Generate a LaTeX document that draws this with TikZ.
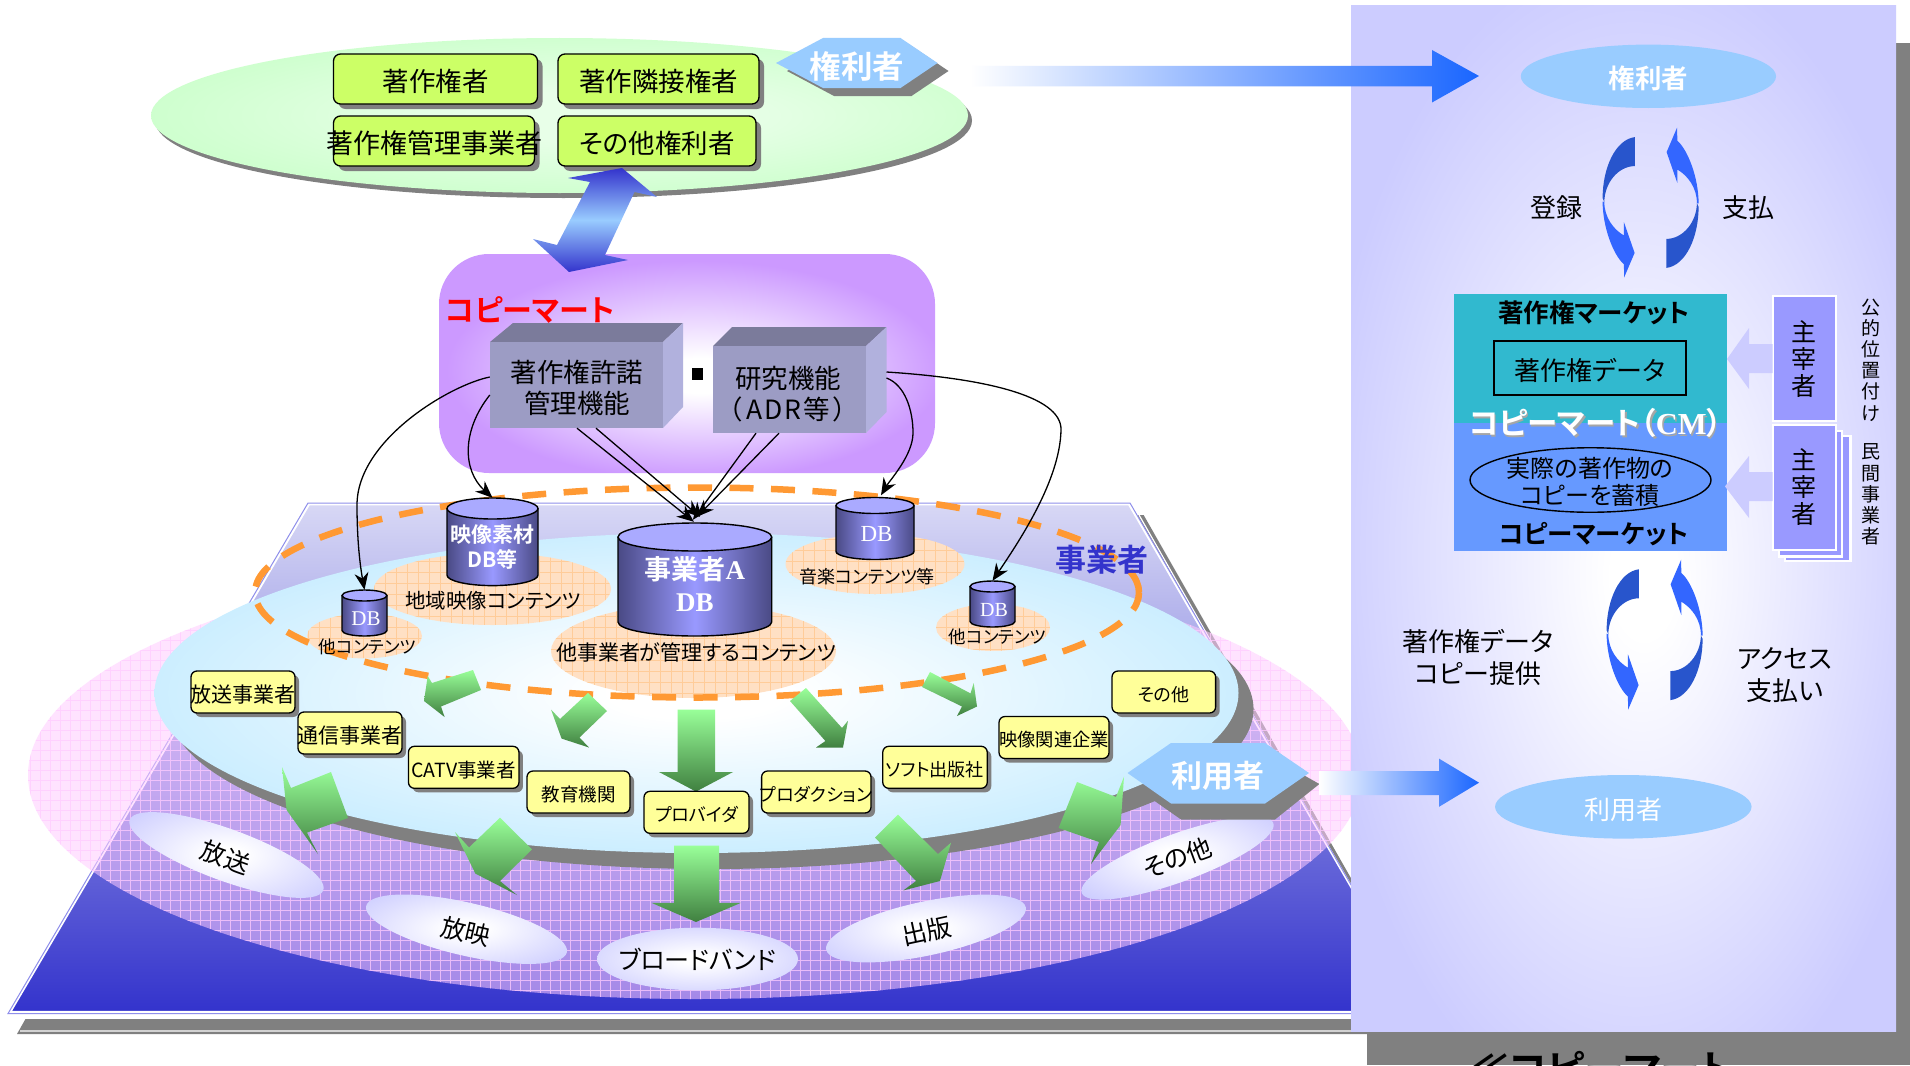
\documentclass[tikz,border=0pt]{standalone}
\usepackage{fontspec}
\setmainfont[RawFeature=+palt,BoldFont={Noto Sans CJK JP Bold}]{Noto Sans CJK JP}
\newfontfamily\latserif[BoldFont={Liberation Serif Bold}]{Liberation Serif}
\usetikzlibrary{arrows.meta,shapes.geometric,shadows}
\definecolor{cLime}{HTML}{CCFF66}
\definecolor{cYel}{HTML}{FFFF99}
\definecolor{cSky}{HTML}{99CCFF}
\definecolor{cGreenOut}{HTML}{CCFFCC}
\definecolor{cGreenIn}{HTML}{E8FFE8}
\definecolor{cMint}{HTML}{CCEEFF}
\definecolor{cViolet}{HTML}{CC99FF}
\definecolor{cPanel}{HTML}{CCCCFF}
\definecolor{cShadow}{HTML}{808080}
\definecolor{cPeach}{HTML}{FFE0C4}
\definecolor{cPeachGrid}{HTML}{FFCC99}
\definecolor{cOrange}{HTML}{FF9933}
\definecolor{cFront}{HTML}{9C9CC4}
\definecolor{cTop}{HTML}{7B7B9B}
\definecolor{cSide}{HTML}{B1B1DD}
\definecolor{cDBedge}{HTML}{4A4A85}
\definecolor{cDBmid}{HTML}{9999FF}
\definecolor{cDBtop}{HTML}{AAAAFF}
\definecolor{cTeal}{HTML}{31B9CF}
\definecolor{cCorn}{HTML}{6699FF}
\definecolor{cDark}{HTML}{2855CC}
\definecolor{cBright}{HTML}{3366FF}
\definecolor{cArrow}{HTML}{1A66FF}
\definecolor{cNavy}{HTML}{3333CC}
\definecolor{cPlaneTop}{HTML}{D8D8F5}
\definecolor{cGTop}{HTML}{99FF99}
\definecolor{cGBot}{HTML}{408040}
\definecolor{cPinkF}{HTML}{FFCCFF}
\pgfdeclareradialshading{shGreen}{\pgfpoint{3bp}{0bp}}{color(0bp)=(cGreenIn); color(8bp)=(cGreenIn); color(28bp)=(cGreenOut); color(50bp)=(cGreenOut)}
\pgfdeclareradialshading{shDisc}{\pgfpoint{0bp}{0bp}}{color(0bp)=(white); color(4bp)=(white); color(25bp)=(cMint); color(50bp)=(cMint)}
\pgfdeclareradialshading{shMart}{\pgfpoint{1.5bp}{-3bp}}{color(0bp)=(white); color(4bp)=(white); color(25bp)=(cViolet); color(50bp)=(cViolet)}
\pgfdeclareradialshading{shPanel}{\pgfpoint{2bp}{-3bp}}{color(0bp)=(white); color(3bp)=(white); color(29bp)=(cPanel); color(50bp)=(cPanel)}
\pgfdeclareradialshading{shOval}{\pgfpoint{0bp}{0bp}}{color(0bp)=(white); color(4bp)=(white); color(33bp)=(cPanel); color(50bp)=(cPanel)}
\newcommand{\fs}[2]{\fontsize{#1}{#2}\selectfont}
% text centred on the node, glyph centre moved down by #1, size of node untouched
\newcommand{\mbr}[2]{\makebox[0pt][c]{\raisebox{\dimexpr-.38em-#1\relax}[0pt][0pt]{#2}}}
\newcommand{\mb}[1]{\mbr{2.5pt}{#1}}
\newcommand{\peach}[4]{%
  \fill[cPeach] (#1,#2) ellipse [x radius=#3pt,y radius=#4pt];
  \begin{scope}\clip (#1,#2) ellipse [x radius=#3pt,y radius=#4pt];
  \draw[cPeachGrid,line width=.6pt,step=11pt] (#1-#3,#2-#4) grid (#1+#3,#2+#4);\end{scope}}
% x1 x2 ytop ybottom ry
\newcommand{\cyl}[5]{%
  \shade[left color=cDBedge,right color=cDBedge,middle color=cDBmid]
    (#1,#3+#5) -- (#1,#4-#5) arc[start angle=180,end angle=360,x radius={(#2-#1)/2*1pt},y radius=#5pt] -- (#2,#3+#5) -- cycle;
  \draw[black,line width=1.4pt] (#1,#3+#5) -- (#1,#4-#5) arc[start angle=180,end angle=360,x radius={(#2-#1)/2*1pt},y radius=#5pt] -- (#2,#3+#5);
  \filldraw[fill=cDBtop,draw=black,line width=1.4pt] ({(#1+#2)/2},#3+#5) ellipse [x radius={(#2-#1)/2*1pt},y radius=#5pt];}
\newcommand{\cyc}[2]{%
  \begin{scope}[shift={(#1,#2)}]
  \foreach \a in {0,180}{\begin{scope}[rotate=\a]
  \fill[cDark] (-15.8,-65.4) .. controls (-35,-63) and (-48,-35) .. (-48,-4.3) -- (-46.3,-0.7) .. controls (-46,-20) and (-32,-36.4) .. (-15.8,-36.4) -- cycle;
  \fill[cBright] (-48,-1) .. controls (-48,25) and (-37,53) .. (-26.7,61.8) -- (-26.5,75) -- (-16,50.4) -- (-26.7,19.6) -- (-26.7,33) .. controls (-37,27) and (-46.3,15) .. (-46.3,-0.7) -- cycle;
  \end{scope}}
  \end{scope}}
\tikzset{
  limebox/.style={draw=black,line width=1.3pt,rounded corners=7pt,fill=cLime,inner sep=0pt,minimum height=50pt,font=\fs{26.5}{30},
    drop shadow={shadow xshift=5pt,shadow yshift=-5pt,opacity=1,fill=cShadow}},
  yelbox/.style={draw=black,line width=1.3pt,rounded corners=6pt,fill=cYel,inner sep=0pt,minimum height=42pt,font=\fs{18}{21},
    drop shadow={shadow xshift=4pt,shadow yshift=-4pt,opacity=1,fill=cShadow}},
  cubefront/.style={fill=cFront,inner sep=0pt},
  lbl/.style={inner sep=0pt,align=center},
  dbbox/.style={inner sep=0pt,align=center,text=white,draw=none},
  oval/.style={ellipse,shade,shading=shOval,inner sep=0pt,font=\fs{25}{28}},
  green/.style={top color=cGTop,bottom color=cGBot,draw=none},
  conn/.style={black,line width=1.3pt,-{Stealth[length=17pt,width=14pt]}},
  chief/.style={fill=cDBmid,draw=white,line width=2.5pt,inner sep=0pt,minimum width=63pt,minimum height=125pt,align=center,font=\fs{25}{27}},
  pale/.style={fill=cPanel,draw=none}
}
\begin{document}
\begin{tikzpicture}[x=1pt,y=-1pt]
\useasboundingbox (0,0) rectangle (1910,1065);
\clip (0,0) rectangle (1910,1065);
\fill[white] (0,0) rectangle (1910,1065);
% ---- platform
\fill[cShadow] (17,1034) -- (310,515) -- (1143.6,515) -- (1440,1034) -- cycle;
\draw[white,line width=1.2pt] (1139,515) -- (1433,1031) -- (20,1031);
\fill[white] (5,1012) rectangle (1352,1019);
\shade[top color=cPlaneTop,bottom color=cNavy] (8,1013.6) -- (308,503) -- (1130,503) -- (1425.6,1013.6) -- cycle;
\draw[white,line width=2.5pt] (10,1012) -- (309,504) -- (1129,504) -- (1424,1012) -- cycle;
\draw[cPanel!60!cNavy,line width=1pt] (8,1013.6) -- (308,503) -- (1130,503) -- (1425.6,1013.6) -- cycle;
% ---- pink disc
\fill[cPinkF,opacity=.55] (695,775) ellipse [x radius=667pt,y radius=224pt];
\begin{scope}\clip (695,775) ellipse [x radius=667pt,y radius=224pt];
\draw[cPinkF,opacity=.75,line width=.7pt,step=10pt] (20,540) grid (1370,1010);
\end{scope}
% ---- light blue disc
\fill[cShadow] (711.5,709) ellipse [x radius=542pt,y radius=160pt];
\shade[shading=shDisc] (696.5,693) ellipse [x radius=542pt,y radius=160pt];
% ---- peach contents
\peach{492.5}{589}{118.5}{36}
\peach{364.5}{636}{57.5}{22.4}
\peach{693.5}{651}{142.5}{47}
\peach{875}{564}{89.5}{30}
\peach{993}{627.5}{57}{23.5}
\draw[cOrange,line width=6.5pt,dash pattern=on 24pt off 17.5pt] (697,592.5) ellipse [x radius=442pt,y radius=105pt];
% ---- top rights-holder ellipse
\fill[cShadow] (563.5,120.5) ellipse [x radius=408.5pt,y radius=77.5pt];
\shade[shading=shGreen] (559.5,115.5) ellipse [x radius=408.5pt,y radius=77.5pt];
\node[limebox,minimum width=204pt] (lime1) at (435.5,79) {\mb{著作権者}};
\node[limebox,minimum width=201pt] (lime2) at (658.5,79) {\mb{著作隣接権者}};
\node[limebox,minimum width=201pt] (lime3) at (434,141) {\mb{\fs{27}{30}著作権管理事業者}};
\node[limebox,minimum width=198pt] (lime4) at (657,141) {\mb{その他権利者}};
\fill[cShadow] (787,71) -- (834,46) -- (911.5,46) -- (948.5,71) -- (911.5,96) -- (834,96) -- cycle;
\fill[cSky] (776,63) -- (823,38) -- (900.5,38) -- (937.5,63) -- (900.5,88) -- (823,88) -- cycle;
\node[lbl,text=white,font=\bfseries\fs{31.5}{34}] (hexR) at (857,66) {権利者};
% ---- mart box
\shade[shading=shMart,rounded corners=50pt] (439,254) rectangle (935,473);
\shade[top color=cNavy,bottom color=cNavy,middle color=cSky] (622,168) -- (568,178) -- (590,182) -- (557,245) -- (533,239) -- (569,272) -- (628,260) -- (605,255) -- (634.5,192) -- (657,197) -- cycle;
\node[lbl,text=red,font=\bfseries\fs{30}{34}] (martT) at (530,310) {コピーマート};
\fill[cTop] (490,342) -- (513,323) -- (683,323) -- (663,342) -- cycle;
\fill[cSide] (663,342) -- (683,323) -- (683,407) -- (663,428) -- cycle;
\node[cubefront,minimum width=173pt,minimum height=86pt] (cube1) at (576.5,385) {};
\node[lbl,font=\fs{26.5}{31.5}] (tCube1) at (577,388) {著作権許諾\\管理機能};
\fill[cTop] (713,346) -- (732,327) -- (886.5,327) -- (866,346) -- cycle;
\fill[cSide] (866,346) -- (886.5,327) -- (886.5,412) -- (866,433) -- cycle;
\node[cubefront,minimum width=153pt,minimum height=87pt] (cube2) at (789.5,389.5) {};
\node[lbl,font=\fs{26.5}{31.5}] (tCube2) at (788,394) {研究機能\\（\kern4pt A\kern2pt D\kern2pt R\kern2pt 等\kern4pt）};
\fill[black] (692,368) rectangle (703,380);
% ---- green arrows (small)
\shade[green] (473,670) -- (481,690) -- (441,706.5) -- (444.6,717) -- (424,701) -- (427.7,676) -- (432,683) -- cycle;
\shade[green] (588,693) -- (607,711) -- (579.5,737.5) -- (589,747.5) -- (561.6,738.6) -- (551,709.5) -- (560,719) -- cycle;
\shade[green] (677.5,709.5) -- (715,709.5) -- (715,772) -- (733,772) -- (696,791.6) -- (659,772) -- (677.5,772) -- cycle;
\shade[green] (790,701) -- (806,688) -- (842,728) -- (848,720.7) -- (843,747.5) -- (816,747.5) -- (825.4,741) -- cycle;
\shade[green] (930,672) -- (922,687) -- (962,706.5) -- (957,716) -- (977,706.5) -- (973.7,683) -- (970.5,693.4) -- cycle;
% ---- databases
\cyl{447}{538}{498}{585.6}{10.5}
\node[dbbox,minimum width=91pt,minimum height=87.6pt,font=\bfseries\fs{21}{25}] (dbV) at (492.5,541.8) {\\[4pt]映像素材\\DB等};
\cyl{618}{771.7}{523}{636}{14}
\node[dbbox,minimum width=153.7pt,minimum height=113pt,font=\bfseries\fs{27}{32.5}] (dbA) at (694.9,579.5) {\\[0pt]事業者{\latserif A}\\{\latserif DB}};
\cyl{342}{387}{590}{636}{5.5}
\node[dbbox,minimum width=45pt,minimum height=46pt,font=\latserif\fs{21}{24}] (dbS) at (364.5,613) {\\[2pt]\hspace{3pt}DB};
\cyl{836}{914}{497.5}{559.5}{8}
\node[dbbox,minimum width=78pt,minimum height=62pt,font=\latserif\fs{23}{26}] (dbM) at (875,528.5) {\\[0pt]\hspace{3pt}DB};
\cyl{970}{1015}{581}{627}{5.5}
\node[dbbox,minimum width=45pt,minimum height=46pt,font=\latserif\fs{20}{23}] (dbR) at (992.5,604) {\\[2pt]\hspace{3pt}DB};
% ---- content labels
\node[lbl,font=\fs{20.5}{23}] (tV) at (493,601) {地域映像コンテンツ};
\node[lbl,font=\fs{17.5}{20}] (tS) at (367.5,647) {他コンテンツ};
\node[lbl,font=\fs{21}{24}] (tA) at (696,652) {他事業者が管理するコンテンツ};
\node[lbl,font=\fs{18}{21}] (tM) at (867,577) {音楽コンテンツ等};
\node[lbl,font=\fs{17.5}{20}] (tR) at (997.5,637) {他コンテンツ};
\node[lbl,text=cNavy,font=\bfseries\fs{31}{34}] (tOp) at (1102,560) {事業者};
% ---- yellow boxes
\node[yelbox,minimum width=104pt,font=\fs{21}{24}] (y1) at (243,692) {\mb{放送事業者}};
\node[yelbox,minimum width=104pt,font=\fs{21}{24}] (y2) at (350,733) {\mb{通信事業者}};
\node[yelbox,minimum width=110.5pt,font=\fs{19.5}{22}] (y3) at (463.7,767.3) {\mb{CATV事業者}};
\node[yelbox,minimum width=103pt,font=\fs{18.5}{22}] (y4) at (578.5,792) {\mb{教育機関}};
\node[yelbox,minimum width=105pt] (y5) at (696.5,812.3) {\mb{プロバイダ}};
\node[yelbox,minimum width=109.4pt] (y6) at (816.3,792) {\mb{プロダクション}};
\node[yelbox,minimum width=104.5pt] (y7) at (935,767.3) {\mb{ソフト出版社}};
\node[yelbox,minimum width=110pt,font=\fs{18.3}{21}] (y8) at (1054,737.5) {\mb{映像関連企業}};
\node[yelbox,minimum width=103.6pt] (y9) at (1163.8,692) {\mb{その他}};
% ---- ovals
\node[oval,minimum width=206pt,minimum height=52pt,rotate=-20] (o1) at (226.5,855) {\mb{放送}};
\node[oval,minimum width=206pt,minimum height=53pt,rotate=-13] (o2) at (466.5,929.2) {\mb{放映}};
\node[oval,minimum width=201pt,minimum height=62.6pt] (o3) at (697.5,959) {\mbr{1pt}{ブロードバンド}};
\node[oval,minimum width=204pt,minimum height=54pt,rotate=12] (o4) at (926,928.5) {\mb{出版}};
\node[oval,minimum width=204pt,minimum height=48pt,rotate=20] (o5) at (1177.5,858) {\mbr{0pt}{その他}};
% ---- green arrows (large)
\shade[green] (282,767) -- (291,788) -- (331,772) -- (348,818) -- (307,832.6) -- (318,854) -- (286.6,810) -- cycle;
\shade[green] (500,817.7) -- (532,849.4) -- (500,881) -- (517,895) -- (475.4,873.6) -- (455,832) -- (469,847.5) -- cycle;
\shade[green] (674,845.7) -- (719,845.7) -- (719,902.8) -- (741,902.8) -- (696,922) -- (651.4,902.8) -- (674,902.8) -- cycle;
\shade[green] (875,837.5) -- (898,814.7) -- (938,854) -- (951,842.7) -- (940,881) -- (903.4,890.4) -- (916,881) -- cycle;
\shade[green] (1077,782) -- (1116,797) -- (1124,776.6) -- (1120.6,825) -- (1091,864) -- (1099,842) -- (1058.6,828) -- cycle;
% ---- connectors
\draw[conn] ([yshift=8pt]cube1.west) .. controls (450,385) and (357,440) .. (357,505) .. controls (357,540) and (360,565) .. (dbS.north);
\draw[conn] ([yshift=-10pt]cube1.west) .. controls (462,430) and (462,470) .. (dbV.north);
\draw[conn] ([xshift=0.5pt]cube1.south) -- ([xshift=-1pt,yshift=1pt]dbA.north);
\draw[conn] ([xshift=19.5pt]cube1.south) -- ([xshift=5pt,yshift=6pt]dbA.north);
\draw[conn] ([xshift=-33.5pt]cube2.south) -- ([xshift=-2pt,yshift=3pt]dbA.north);
\draw[conn] ([xshift=-10.5pt]cube2.south) -- ([xshift=2pt,yshift=6pt]dbA.north);
\coordinate (c2a) at (886.5,372);
\coordinate (c2b) at (886.5,378);
\draw[conn] (c2b) .. controls (905,385) and (913,410) .. (913,433) .. controls (913,455) and (890,480) .. ([xshift=6pt,yshift=2pt]dbM.north);
\draw[conn] (c2a) .. controls (980,378) and (1062,395) .. (1061,430) .. controls (1060,480) and (1020,540) .. (dbR.north);
% ---- users hexagon
\fill[cShadow] (1137.5,789) -- (1181,759) -- (1275,759) -- (1319.4,784) -- (1275,819.5) -- (1181,819.5) -- cycle;
\fill[cSky] (1127.5,773) -- (1171,743) -- (1265,743) -- (1309,773) -- (1265,803.5) -- (1171,803.5) -- cycle;
\node[lbl,text=white,font=\bfseries\fs{31}{34}] (hexU) at (1218.4,776) {利用者};
% ---- right panel
\fill[cShadow] (1896,43) rectangle (1910,1065);
\fill[cShadow] (1367,1031) rectangle (1910,1065);
\node[lbl,anchor=base west,font=\bfseries\fs{40}{44}] (tBot) at (1468,1084) {≪コピーマート};
\shade[shading=shPanel] (1351,6) rectangle (1896,1031);
% flow arrows
\shade[left color=white,middle color=white!65!cArrow,right color=cArrow] (970,66) -- (1432,66) -- (1432,50) -- (1479,76) -- (1432,102.5) -- (1432,86.4) -- (970,86.4) -- cycle;
\shade[left color=white,middle color=white!88!cArrow,right color=cArrow] (1319.4,771) -- (1439,771) -- (1439,758.6) -- (1479,782.7) -- (1439,806.8) -- (1439,795) -- (1319.4,795) -- cycle;
\node[ellipse,fill=cSky,inner sep=0pt,minimum width=255.3pt,minimum height=63.4pt,text=white,font=\bfseries\fs{26.5}{30}] (eR) at (1648.4,76.3) {\mb{権利者}};
\node[ellipse,fill=cSky,inner sep=0pt,minimum width=256.5pt,minimum height=63.6pt,text=white,font=\fs{26}{30}] (eU) at (1623.3,806.8) {\mb{利用者}};
\cyc{1650.6}{202.5}
\cyc{1654.6}{634.7}
\node[lbl,font=\fs{26}{28}] (tReg) at (1556.5,208) {登録};
\node[lbl,font=\fs{26}{28}] (tPay) at (1748,208) {支払};
\node[lbl,font=\fs{26}{31.5}] (tData) at (1478,657.5) {著作権データ\\コピー提供};
\node[lbl,font=\fs{26}{31.5}] (tAcc) at (1785,675) {アクセス\\支払い};
% market block
\fill[cTeal] (1454,294) rectangle (1727,422.5);
\fill[cCorn] (1454,422.5) rectangle (1727,551);
\node[lbl,font=\bfseries\fs{25.5}{28}] (tCM1) at (1594,312.5) {著作権マーケット};
\node[draw=black,line width=1.5pt,inner sep=0pt,minimum width=192pt,minimum height=53.6pt,font=\fs{26}{28}] (bData) at (1590,368) {\mb{著作権データ}};
\node[lbl,text=cShadow!70,font=\bfseries\fs{30.5}{32}] (tCMs) at (1597,425) {コピーマート（{\latserif CM}）};
\node[lbl,text=white,font=\bfseries\fs{30.5}{32}] (tCM) at (1595.5,423) {コピーマート（{\latserif CM}）};
\node[ellipse,draw=black,line width=1.4pt,inner sep=0pt,minimum width=241pt,minimum height=64.5pt] (eCopy) at (1590.5,480) {};
\node[lbl,font=\fs{24}{27.5}] (tCopy) at (1590,482) {実際の著作物の\\コピーを蓄積};
\node[lbl,font=\bfseries\fs{25.5}{28}] (tCM2) at (1593.5,534) {コピーマーケット};
\fill[cDBmid,draw=white,line width=2.5pt] (1785,436) rectangle (1850.7,561);
\fill[cDBmid,draw=white,line width=2.5pt] (1779,431) rectangle (1842,556.4);
\node[chief] (ch1) at (1804.3,358.7) {主\\宰\\者};
\node[chief] (ch2) at (1804.3,487.5) {主\\宰\\者};
\fill[pale] (1772.6,344) -- (1749,344) -- (1749,328) -- (1727,359) -- (1749,389) -- (1749,373) -- (1772.6,373) -- cycle;
\fill[pale] (1772.6,472) -- (1749,472) -- (1749,456) -- (1725,486.4) -- (1749,518) -- (1749,501) -- (1772.6,501) -- cycle;
\node[lbl,font=\fs{19}{21.2}] (tPub) at (1870.7,360) {公\\的\\位\\置\\付\\け};
\node[lbl,font=\fs{19}{21.2}] (tPri) at (1870.7,494.6) {民\\間\\事\\業\\者};
\end{tikzpicture}
\end{document}
